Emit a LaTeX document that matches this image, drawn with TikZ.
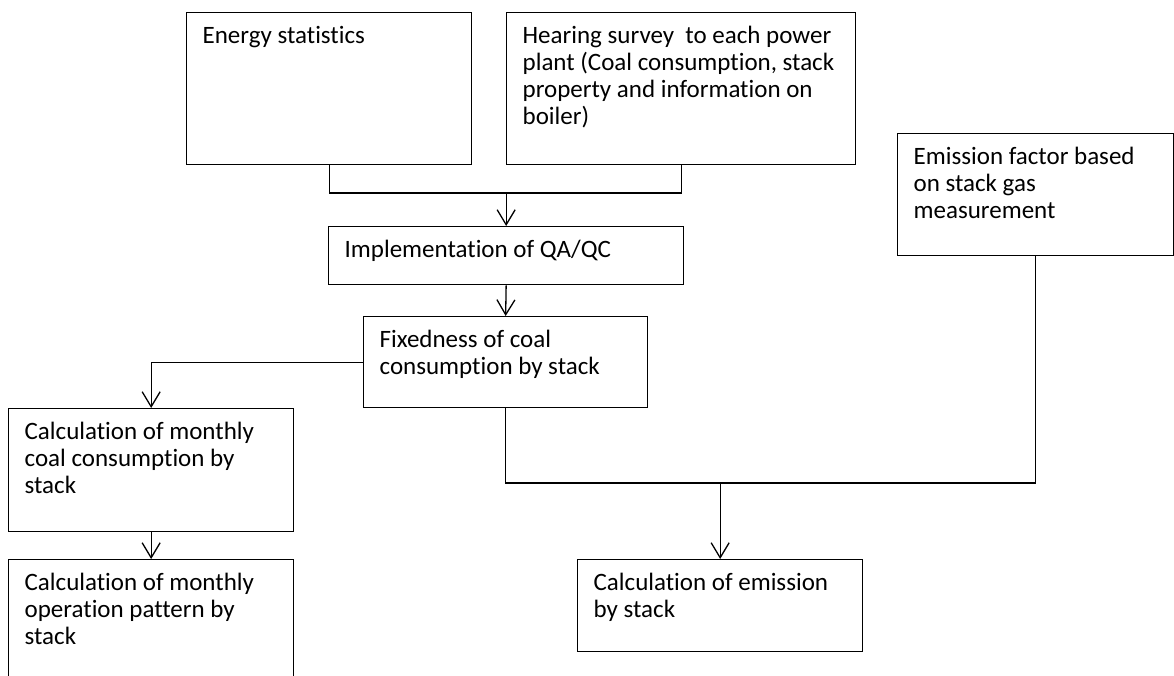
\documentclass[tikz,border=0pt]{standalone}
\usepackage{fontspec}
\setmainfont[Ligatures=NoCommon]{Carlito}
\usetikzlibrary{arrows.meta}
\newcommand{\boxtext}[3]{\begin{minipage}[t][#2pt][t]{#1pt}\vspace*{12pt}\raggedright\leftskip=16pt\strut #3\end{minipage}}

\begin{document}
\begin{tikzpicture}[x=1pt, y=-1pt,
    boxstyle/.style={draw, line width=1.3pt, anchor=north west, inner sep=0pt, font=\fontsize{25}{27}\selectfont},
    linestyle/.style={line width=1.3pt},
    arrowstyle/.style={linestyle, -{Straight Barb[length=15pt, width=18pt]}}]
    \clip (0,0) rectangle (1174,676);

    \node[boxstyle] (stats) at (186,12) {\boxtext{285}{152}{Energy statistics}};
    \node[boxstyle] (survey) at (506,12) {\boxtext{349}{152}{Hearing survey\ \ to each power\\ plant (Coal consumption, stack\\ property and information on\\ boiler)}};
    \node[boxstyle] (qaqc) at (328,226) {\boxtext{355}{58}{Implementation of QA/QC}};
    \node[boxstyle] (fixed) at (363,316) {\boxtext{284}{91}{Fixedness of coal\\ consumption by stack}};
    \node[boxstyle] (emfac) at (897,133) {\boxtext{276}{122}{Emission factor based\\ on stack gas\\ measurement}};
    \node[boxstyle] (monthly) at (8,408) {\boxtext{285}{123}{Calculation of monthly\\ coal consumption by\\ stack}};
    \node[boxstyle] (pattern) at (8,559) {\boxtext{285}{140}{Calculation of monthly\\ operation pattern by\\ stack}};
    \node[boxstyle] (emis) at (577,559) {\boxtext{285}{92}{Calculation of emission\\ by stack}};

    \coordinate (join1) at (qaqc.north |- 0,193);
    \coordinate (join2) at (emis.north |- 0,483);

    \draw[linestyle] (stats.south) |- (join1) -| (survey.south);
    \draw[arrowstyle] (join1) -- (qaqc.north);
    \draw[arrowstyle] (qaqc.south) -- (fixed.north);
    \draw[arrowstyle] (fixed.west) -| (monthly.north);
    \draw[arrowstyle] (monthly.south) -- (pattern.north);
    \draw[linestyle] (fixed.south) |- (join2) -| (emfac.south);
    \draw[arrowstyle] (join2) -- (emis.north);
\end{tikzpicture}
\end{document}
